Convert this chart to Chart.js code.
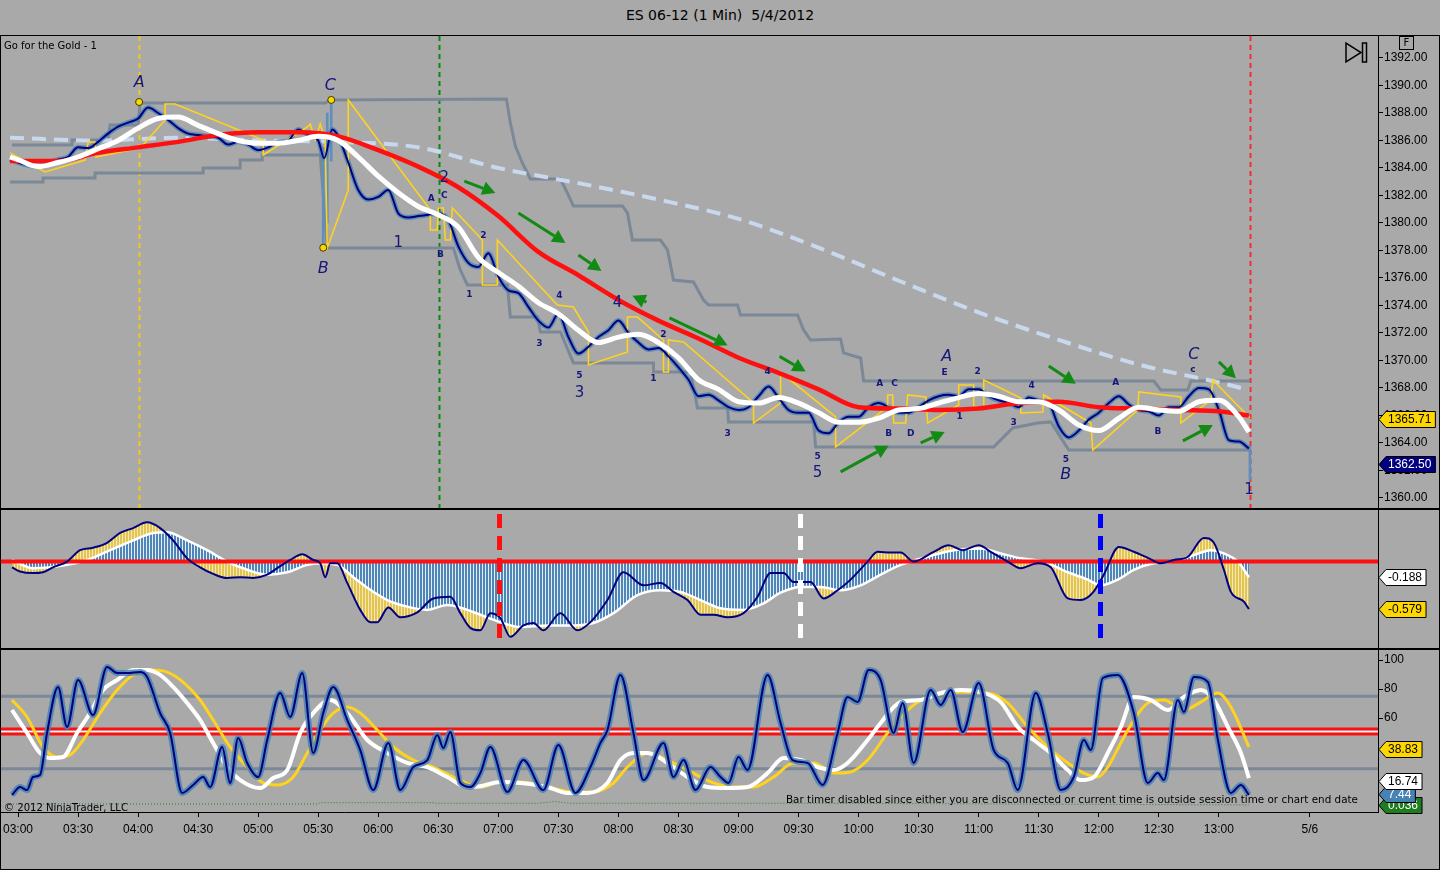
<!DOCTYPE html>
<html lang="en">
<head>
<meta charset="UTF-8">
<title>ES 06-12 (1 Min) 5/4/2012</title>
<script src="https://cdn.jsdelivr.net/npm/chart.js"></script>
<style>
  body { margin:0; background:#A9A9A9; width:1440px; height:870px; overflow:hidden; position:relative; font-family:"DejaVu Sans", sans-serif; }
  #title { position:absolute; top:7px; left:0; width:1440px; text-align:center; font-size:14px; color:#000; }
  canvas { position:absolute; left:0; }
</style>
</head>
<body>
<div id="title">ES 06-12 (1 Min)&nbsp;&nbsp;5/4/2012</div>
<canvas id="price" width="1440" height="474" style="top:35px"></canvas>
<canvas id="macd" width="1440" height="140" style="top:509px"></canvas>
<canvas id="stoch" width="1440" height="221" style="top:649px"></canvas>
<script>
// time is minutes after 03:00
const timeTicks = [0,30,60,90,120,150,180,210,240,270,300,330,360,390,420,450,480,510,540,570,600,645.5];
const timeLabels = ['03:00','03:30','04:00','04:30','05:00','05:30','06:00','06:30','07:00','07:30','08:00','08:30','09:00','09:30','10:00','10:30','11:00','11:30','12:00','12:30','13:00','5/6'];
const priceTicks = [1360,1362,1364,1366,1368,1370,1372,1374,1376,1378,1380,1382,1384,1386,1388,1390,1392];
const stochTicks = [60,80,100];

// price panel
const priceT = [-4,0,5,10,15,20,25,30,35,40,45,50,55,60,65,70,75,80,85,90,95,100,105,110,115,120,125,130,135,140,145,150,153,157,160,165,170,175,180,185,190,195,200,205,210,215,220,225,230,235,240,245,250,255,260,265,270,275,280,285,290,295,300,305,310,315,320,325,330,335,340,345,350,355,360,365,370,375,380,385,390,395,400,405,410,415,420,425,430,435,440,445,450,455,460,465,470,475,480,485,490,495,500,505,510,515,520,525,530,535,540,545,550,555,560,565,570,575,580,585,590,595,600,605,610,615];
const priceP = [1384.6,1384.4,1384.2,1384.1,1384.4,1384.6,1384.8,1385.5,1385.45,1385.9,1386.5,1387.0,1387.3,1387.6,1388.4,1388.0,1387.5,1386.9,1386.5,1386.4,1386.3,1386.2,1385.7,1385.9,1385.7,1385.3,1385.5,1385.9,1386.0,1386.8,1386.4,1386.0,1384.7,1386.8,1386.3,1384.4,1382.4,1381.7,1381.9,1382.4,1380.7,1380.4,1380.5,1380.6,1380.7,1380.2,1378.3,1377.1,1376.8,1377.8,1376.1,1375.1,1374.9,1373.9,1372.9,1372.4,1373.4,1371.7,1370.5,1371.0,1371.7,1372.2,1372.9,1372.0,1371.3,1370.8,1370.9,1370.3,1369.5,1368.6,1367.4,1367.5,1367.1,1366.6,1366.4,1366.6,1367.4,1368.1,1367.3,1366.4,1366.2,1366.2,1364.9,1364.7,1365.5,1365.9,1365.9,1366.6,1366.9,1366.6,1366.2,1366.2,1366.6,1367.1,1367.4,1367.5,1367.4,1367.9,1367.9,1367.4,1367.1,1366.9,1366.6,1367.3,1367.1,1366.9,1365.2,1364.4,1364.9,1365.7,1366.2,1366.9,1367.4,1366.8,1366.4,1366.3,1366.0,1366.6,1366.6,1367.4,1368.0,1367.9,1366.4,1364.2,1364.1,1363.6];

const fastT = [-4,0,10,20,30,40,50,60,70,80,90,100,110,120,130,140,150,160,170,180,190,200,210,220,230,240,250,260,270,280,290,300,310,320,330,340,350,360,370,380,390,400,410,420,430,440,450,460,470,480,490,500,510,520,530,540,550,560,570,580,590,600,610,615];
const fastP = [1384.8,1384.6,1384.1,1384.4,1384.8,1385.4,1386.0,1386.9,1387.6,1387.7,1387.1,1386.5,1386.0,1385.8,1385.8,1386.0,1386.3,1386.0,1384.8,1383.4,1382.2,1381.2,1380.6,1379.7,1377.5,1376.4,1375.4,1374.2,1373.4,1372.2,1371.3,1371.7,1371.9,1371.3,1370.2,1368.6,1367.9,1367.0,1366.9,1367.3,1366.9,1366.2,1365.5,1365.5,1365.8,1366.4,1366.5,1366.9,1367.3,1367.6,1367.4,1367.0,1367.0,1366.4,1365.3,1364.9,1365.8,1366.6,1366.4,1366.3,1367.0,1367.1,1365.9,1364.8];

const slowT = [-4,20,40,60,80,100,120,140,160,180,200,220,240,260,280,300,320,340,360,380,400,420,440,460,480,500,520,540,560,580,600,615];
const slowP = [1384.5,1384.5,1385.1,1385.5,1385.9,1386.4,1386.6,1386.6,1386.3,1385.3,1384.1,1382.6,1380.5,1377.9,1376.2,1374.4,1372.9,1371.6,1370.2,1369.1,1367.9,1366.6,1366.5,1366.4,1366.5,1366.9,1367.0,1366.6,1366.5,1366.4,1366.3,1366.0];

const longT = [-4,40,80,120,160,200,240,280,320,360,400,440,480,520,560,600,615];
const longP = [1386.2,1386.0,1386.2,1386.0,1385.9,1385.5,1384.0,1382.9,1381.7,1380.3,1378.2,1375.8,1373.5,1371.5,1369.7,1368.4,1367.85];

const trailT = [-4,13.5,33.5,35,38.5,39,61,73.5,73.5,78.5,122.5,122.5,144.5,146,148.5,151,153.5,154.5,165,165,206,206,209.5,210,212.5,213.5,216,217,232,232,239.5,239.5,269.5,277.5,285,285,304.5,304.5,309.5,322.5,322.5,325,325,332.5,367.5,367.5,381,381,408.5,408.5,434.5,434.5,437,437.5,443.5,444.5,453.5,454.5,470,470,477.5,477.5,482.5,482.5,501,501,512,512.5,536,537,559.5,560,581,581,596,597,615.5];
const trailP = [1385.09,1383.71,1384.58,1385.89,1385.89,1384.8,1385.45,1387.49,1388.65,1388.65,1386.04,1384.95,1386.98,1387.2,1386.04,1387.2,1386.04,1378.18,1382.4,1388.95,1380.95,1379.49,1379.49,1381.09,1381.09,1378.76,1378.76,1381.09,1378.76,1375.49,1375.49,1378.76,1374.04,1373.89,1372.07,1369.67,1370.62,1373.16,1373.16,1371.49,1369.16,1369.16,1371.49,1371.35,1366.91,1365.45,1366.91,1369.16,1365.89,1363.71,1366.62,1367.49,1367.49,1365.45,1365.45,1367.49,1367.35,1365.45,1366.76,1368.22,1368.22,1366.62,1366.62,1368.58,1367.27,1366.18,1366.25,1367.49,1365.45,1363.49,1366.4,1367.71,1367.35,1365.45,1367.13,1368.58,1365.82];

const upperT = [-3,27,27,45,46,60,61,153.5,156,244,246,248.5,252,256,271,274.5,277.5,302,304.5,307,321,324.5,327.5,337.5,342.5,345,359.5,361,389.5,392.5,396,411,412.5,421,422.5,567.5,571,584.5,586,615.5];
const upperP = [1385.67,1385.67,1386.04,1386.04,1387.13,1387.13,1388.73,1388.73,1388.95,1389.02,1387.27,1385.6,1384.36,1383.2,1383.2,1382.18,1381.24,1381.24,1380.73,1378.76,1378.76,1378.04,1375.85,1375.71,1374.4,1374.04,1374.04,1373.31,1373.31,1372.22,1371.49,1371.56,1370.55,1370.18,1368.51,1368.51,1367.85,1367.85,1368.51,1368.51];
const lowerT = [-4,12.5,12.5,38.5,38.5,92.5,92.5,111,111,122,122,151,154.5,217.5,221,224.5,244.5,246,259.5,261,271,277.5,317.5,317.5,336,339.5,354.5,355,397.5,398.5,487.5,492.5,497,509.5,516,525,615.5];
const lowerP = [1382.98,1382.98,1383.27,1383.27,1383.64,1383.64,1384.0,1384.0,1384.58,1384.58,1384.95,1384.95,1378.18,1378.18,1376.58,1375.49,1375.49,1373.16,1373.16,1372.07,1372.07,1369.82,1369.82,1369.16,1369.16,1366.55,1366.55,1365.53,1365.53,1363.71,1363.71,1364.44,1365.09,1365.45,1365.53,1363.49,1363.49];

const wickT = [152.5,154.5,156.5,615.5];
const wickLo = [1378.2,1380.0,1384.5,1361.3];
const wickHi = [1385.5,1388.0,1389.0,1363.8];

const waveLabels = ['A','C','B','1','2','A','C','B','2','1','3','4','5','3','4','2','1','3','4','5','5','A','C','B','D','A','E','2','1','3','4','5','B','A','B','C','c','1'];
const waveT = [60.5,156,152.5,190,213,206.5,213,211,232.5,225.5,260.5,270.5,280.5,280.5,299.5,322.5,317.5,354.5,374.5,399.5,399.5,430.5,438,435,446,464,463,479.5,470.5,497.5,506.5,523.5,523.5,548.5,569.5,587.5,587,615];
const waveP = [1390.2,1390.0,1376.7,1378.55,1383.3,1381.8,1382.0,1377.7,1379.1,1374.8,1371.2,1374.7,1368.9,1367.6,1374.2,1371.9,1368.7,1364.65,1369.2,1363.0,1361.8,1368.3,1368.3,1364.7,1364.7,1370.25,1369.1,1369.2,1365.9,1365.45,1368.15,1362.8,1361.7,1368.4,1364.8,1370.4,1369.3,1360.6];
const waveSize = ['L','L','L','M','M','S','S','S','S','S','S','S','S','M','M','S','S','S','S','S','M','S','S','S','S','L','S','S','S','S','S','S','L','S','S','L','S','M'];
const pivotT = [60.5,152.5,156.5];
const pivotP = [1388.8,1378.2,1388.95];
const arrowT1 = [223,250,280,314,325.5,380.5,411,451,515,582,600];
const arrowP1 = [1383.05,1380.73,1377.67,1374.25,1373.1,1370.3,1361.9,1364.0,1369.6,1364.15,1369.9];
const arrowT2 = [238.5,273.5,291.5,307,354.5,393.5,435,463,528.5,597,608.5];
const arrowP2 = [1382.18,1378.55,1376.51,1374.7,1371.1,1369.2,1363.8,1364.8,1368.3,1365.3,1368.7];
const priceMarks = [60.5,210.5,615.5];
const priceBoxes = [1365.71,1362.50];

// oscillator panel
const macdT = [-3,1,7.5,12.5,17.5,24.5,31,37.5,44.5,51,57.5,64.5,71,77.5,84.5,91,97.5,104.5,111,117.5,124.5,129.5,136,142,147.5,151,153.5,156,159.5,164.5,171,176,179.5,185,191,199.5,207.5,216,221,226,231,236,241,246,252.5,257.5,262.5,271,279.5,286,294.5,302.5,312.5,321,327.5,334.5,341,347.5,354.5,362.5,369.5,376,382.5,387.5,396,402.5,409.5,416,424.5,429.5,436,441,447.5,457.5,465,472,480,486,494.5,501,509.5,516,524.5,531,537,542.5,550,557.5,565,571,577.5,584.5,592.5,597.5,602.5,606,612.5,615];
const macdV = [-0.07,-0.12,-0.14,-0.13,-0.07,0.0,0.14,0.17,0.23,0.35,0.41,0.48,0.41,0.26,0.04,-0.07,-0.15,-0.20,-0.19,-0.20,-0.16,-0.08,0.02,0.09,0.02,-0.02,-0.19,-0.02,-0.02,-0.26,-0.59,-0.74,-0.74,-0.56,-0.68,-0.62,-0.45,-0.43,-0.63,-0.81,-0.84,-0.63,-0.69,-0.92,-0.78,-0.75,-0.84,-0.63,-0.84,-0.74,-0.47,-0.13,-0.29,-0.26,-0.37,-0.47,-0.65,-0.65,-0.68,-0.63,-0.43,-0.14,-0.14,-0.25,-0.25,-0.45,-0.35,-0.22,0.0,0.12,0.11,0.11,0.0,0.12,0.20,0.14,0.20,0.12,0.0,-0.08,-0.02,-0.07,-0.45,-0.47,-0.38,-0.16,0.18,0.12,0.04,-0.02,0.02,0.06,0.29,0.23,-0.10,-0.37,-0.49,-0.58];
const signalT = [-3,7.5,24.5,34.5,46,57.5,67.5,74.5,84.5,94.5,104.5,114.5,124.5,134.5,144.5,151,159.5,167.5,174.5,184.5,194.5,204.5,214.5,224.5,231,241,251,264.5,277.5,287.5,297.5,309.5,321,331,341,351,362.5,372.5,381,391,401,411,421,431,441,454.5,467.5,481,491,501,512.5,524.5,534.5,541,549.5,557.5,567.5,577.5,587.5,596,602.5,609.5,615];
const signalV = [0.02,-0.08,-0.04,0.02,0.14,0.26,0.35,0.36,0.26,0.14,0.0,-0.10,-0.16,-0.13,-0.04,-0.02,-0.04,-0.19,-0.32,-0.47,-0.55,-0.59,-0.53,-0.59,-0.65,-0.74,-0.80,-0.78,-0.78,-0.75,-0.63,-0.41,-0.35,-0.37,-0.47,-0.57,-0.59,-0.51,-0.38,-0.31,-0.31,-0.35,-0.29,-0.16,-0.04,0.06,0.14,0.16,0.10,0.04,0.0,-0.13,-0.22,-0.29,-0.22,-0.10,-0.02,0.0,0.08,0.14,0.10,0.0,-0.19];
const macdMarks = [240.5,390.5,540.5];
const macdBoxes = [-0.188,-0.579];

// stochastic panel
const kT = [-3,1,4.5,7.5,11,14.5,20,24.5,30,37.5,44.5,49.5,54.5,61,64.5,71,76,82,87.5,92.5,96,102,106,110,114.5,120,124.5,131,136,142,147.5,152.5,157.5,164.5,171,177.5,185,191,197.5,204.5,209.5,212.5,216,221,226,231,236,244.5,252.5,262.5,270,278.5,286,291,294.5,301,307.5,312.5,322.5,327.5,332.5,338.5,346,351,355,360,364.5,374.5,381,387,394.5,402,409.5,414.5,419.5,425,431,437.5,442,447.5,456,461,466,472,480,487.5,494.5,499.5,508.5,514.5,521,527.5,532.5,536,542,549.5,557.5,564.5,569.5,572.5,579.5,582.5,587.5,594.5,599.5,606,611,615];
const kV = [6.9,12.4,10.3,19.3,20.7,49.7,81.4,53.8,86.2,62,95.2,91,91,91.7,88.3,63.4,49.7,8.3,13.8,19.3,12.4,40,15.2,46.2,29,19.3,44.8,77.2,60.7,91,35.9,63.4,81.4,58.6,37.9,10.3,42.8,10.3,26.2,31,48.3,39.3,50.3,15.2,12.4,22,40,9,31,10.3,41.4,8.3,26.2,42.8,51.7,89.7,49.7,17.2,42.8,19.3,31,10.3,26.2,19.3,15.2,33.1,24.1,89.7,56.6,31,29,13.8,49.7,74.5,71,93.1,86.2,49.7,70.3,29,79.3,69,79.3,50.3,84.1,37.9,29,10.3,77.2,49.7,10.3,19.3,44.8,37.9,87.6,89.7,63.4,15.2,22,17.2,72.4,64.1,88.3,84.8,44.8,8.3,13.8,6.9];
const dT = [-3,4.5,11,16,22.5,29.5,36,42.5,49.5,57.5,64.5,71,77.5,84.5,91,97.5,104.5,111,121,127.5,134.5,141,147.5,156,164.5,174.5,184.5,194.5,204.5,214.5,224.5,231,241,251,264.5,274.5,284.5,294.5,301,307.5,314.5,324.5,334.5,344.5,354.5,364.5,374.5,382.5,391,401,407.5,414.5,424.5,431,441,451,461,471,481,491,499.5,507.5,516,524.5,531,537.5,544.5,551,557.5,566,574.5,582.5,591,597.5,604.5,611,615];
const dV = [65.5,49.7,35.9,32.4,33.1,49.7,63.4,79.3,86.2,93.1,93.1,89.7,81.4,70.3,58.6,42.8,26.2,17.2,11.7,18.6,24.1,49.7,63.4,72.4,63.4,44.8,35.9,29,26.2,19.3,12.4,13,15.9,15.2,12.4,8.3,8.3,15.2,31,35.9,35.9,29,19.3,12.4,11.7,12.4,22,32.4,31,25.5,24.1,29,44.8,56.6,71,72.4,77.2,79.3,77.9,71,53.8,44.8,35.9,24.1,17.2,19.3,35.9,53.8,74.5,72.4,65.5,74.5,79.3,72.4,53.8,35.9,18.6];
const sT = [-3,4.5,12.5,19.5,26,32.5,41,49.5,57.5,66,74.5,82.5,91,97.5,106,114.5,122.5,129.5,137.5,144.5,151,157.5,164.5,171,179.5,187.5,197.5,207.5,217.5,231,241,251,264.5,277.5,287.5,297.5,304.5,314.5,324.5,334.5,347.5,357.5,367.5,377.5,387.5,397.5,407.5,416,424.5,434.5,444.5,454.5,464.5,471,484.5,494.5,504.5,514.5,524.5,532.5,539.5,544.5,551,557.5,564.5,572.5,582.5,591,599.5,606,615];
const sV = [72.4,60.7,40,33.1,34.5,44.8,63.4,79.3,89.7,93.1,91.7,84.8,72.4,58.6,40,26.2,15.2,13.8,19.3,35.9,51.7,63.4,67.6,63.4,51.7,40,31,26.2,19.3,12.4,15.9,15.9,12.4,9,9,15.2,26.2,35.9,31,24.1,15.2,12.4,12.4,19.3,29,29,22,22.8,31,49.7,65.5,74.5,77.2,77.9,77.2,70.3,53.8,40,29,22,19.3,26.2,42.8,58.6,70.3,72.4,65.5,71,77.2,67.6,40];
const timerT = [-4,150,151,208,209,260,268,276,400,615];
const timerV = [0.7,0.7,1.6,1.6,1.2,1.2,2.4,1.2,1.2,0.04];
const stochBands = [75,25];
const stochMid = [52.5,49];
const stochBoxes = [0.036,7.44,16.74,38.83];

const FONT = '"DejaVu Sans", sans-serif';
const AXIS_FONT = '"Liberation Sans", Arial, sans-serif';
const INK = '#16167C';
const GREEN = '#138A13';

function series(ts, vs) { return ts.map((t, i) => ({x: t, y: vs[i]})); }
function line(ts, vs, color, width, extra) {
  return Object.assign({type: 'line', data: series(ts, vs), borderColor: color, borderWidth: width,
    pointRadius: 0, fill: false, clip: 0, tension: 0}, extra || {});
}
const smooth = {cubicInterpolationMode: 'monotone'};

function stripes(a, b) {
  const c = document.createElement('canvas');
  c.width = 3; c.height = 4;
  const g = c.getContext('2d');
  g.fillStyle = a; g.fillRect(0, 0, 2, 4);
  g.fillStyle = b; g.fillRect(2, 0, 1, 4);
  return g.createPattern(c, 'repeat');
}
const bluePat = stripes('#4E86B8', '#E4ECF5');
const goldPat = stripes('#E2C44E', '#F3E8B8');

// labels must not shrink the plot area
function noPad(s) { s.paddingLeft = 0; s.paddingRight = 0; s.paddingTop = 0; s.paddingBottom = 0; }

function xAxis(show) {
  return {
    type: 'linear', min: -8.5, max: 679.5, display: show, offset: false,
    afterBuildTicks: s => { s.ticks = timeTicks.map(v => ({value: v})); },
    afterFit: s => { noPad(s); if (show) s.height = 56; },
    grid: {drawOnChartArea: false, drawTicks: true, tickLength: 5, color: '#000', offset: false},
    border: {color: '#000'},
    ticks: {padding: 5, color: '#000', font: {family: AXIS_FONT, size: 12}, maxRotation: 0, autoSkip: false,
      callback: (v, i) => timeLabels[i]}
  };
}
function yAxis(min, max, vals, fmt) {
  return {
    position: 'right', min: min, max: max,
    afterBuildTicks: s => { s.ticks = vals.map(v => ({value: v})); },
    afterFit: s => { noPad(s); s.width = 62; },
    grid: {drawOnChartArea: false, drawTicks: true, tickLength: 5, color: '#000'},
    border: {color: '#000'},
    ticks: {padding: 1, color: '#000', font: {family: AXIS_FONT, size: 12}, autoSkip: false, callback: fmt}
  };
}

function arrow(ctx, x1, y1, x2, y2) {
  const ang = Math.atan2(y2 - y1, x2 - x1), hl = 13, hw = 7;
  const bx = x2 - hl * Math.cos(ang), by = y2 - hl * Math.sin(ang);
  ctx.strokeStyle = GREEN; ctx.lineWidth = 3;
  ctx.beginPath(); ctx.moveTo(x1, y1); ctx.lineTo(bx, by); ctx.stroke();
  ctx.fillStyle = GREEN;
  ctx.beginPath(); ctx.moveTo(x2, y2);
  ctx.lineTo(bx + hw * Math.sin(ang), by - hw * Math.cos(ang));
  ctx.lineTo(bx - hw * Math.sin(ang), by + hw * Math.cos(ang));
  ctx.closePath(); ctx.fill();
}

function box(ctx, x, y, text, bg, fg) {
  ctx.font = '12px ' + AXIS_FONT;
  const w = ctx.measureText(text).width + 6;
  ctx.beginPath();
  ctx.moveTo(x, y); ctx.lineTo(x + 7, y - 8); ctx.lineTo(x + 7 + w, y - 8);
  ctx.lineTo(x + 7 + w, y + 8); ctx.lineTo(x + 7, y + 8); ctx.closePath();
  ctx.fillStyle = bg; ctx.fill();
  ctx.strokeStyle = '#000'; ctx.lineWidth = 1; ctx.stroke();
  ctx.fillStyle = fg; ctx.textAlign = 'left'; ctx.textBaseline = 'middle';
  ctx.fillText(text, x + 9, y + 0.5);
}

function drawLayer(chart, L) {
  if (!L) return;
  const {ctx, chartArea: a, scales: {x, y}} = chart;
  ctx.save();
  ctx.beginPath(); ctx.rect(a.left, a.top, a.width, a.height); ctx.clip();
  (L.h || []).forEach(h => {
    const py = y.getPixelForValue(h.v);
    ctx.strokeStyle = h.c; ctx.lineWidth = h.w; ctx.setLineDash(h.d || []);
    ctx.beginPath(); ctx.moveTo(a.left, py); ctx.lineTo(a.right, py); ctx.stroke();
  });
  (L.v || []).forEach(v => {
    const px = Math.round(x.getPixelForValue(v.t)) + 0.5;
    ctx.strokeStyle = v.c; ctx.lineWidth = v.w; ctx.setLineDash(v.d || []);
    ctx.beginPath(); ctx.moveTo(px, a.top + (v.inset || 0)); ctx.lineTo(px, a.bottom - (v.inset || 0)); ctx.stroke();
  });
  ctx.setLineDash([]);
  if (L.arrows) L.arrows(chart);
  if (L.marks) L.marks(chart);
  ctx.restore();
}

function deco(cfg) {
  return {
    id: 'deco',
    beforeDatasetsDraw(chart) { drawLayer(chart, cfg.under); },
    afterDatasetDraw(chart, args) { if (args.index === cfg.midIndex) drawLayer(chart, cfg.mid); },
    afterDatasetsDraw(chart) { drawLayer(chart, cfg.over); },
    afterDraw(chart) {
      const {ctx, chartArea: a, width: W, height: H, scales: {y}} = chart;
      ctx.save();
      (cfg.boxes || []).forEach(b => box(ctx, a.right + 1, Math.round(y.getPixelForValue(b.v)) + 0.5, b.text, b.bg, b.fg));
      if (cfg.extra) cfg.extra(ctx, chart);
      ctx.strokeStyle = '#000'; ctx.lineWidth = 1;
      ctx.strokeRect(0.5, 0.5, W - 1, H - 1);
      ctx.beginPath(); ctx.moveTo(a.right + 0.5, 0); ctx.lineTo(a.right + 0.5, a.bottom); ctx.stroke();
      ctx.restore();
    }
  };
}

const baseOptions = {
  responsive: false, animation: false, events: [],
  plugins: {legend: {display: false}, tooltip: {enabled: false}}
};

// ---------- price panel ----------
new Chart(document.getElementById('price'), {
  type: 'line',
  data: {
    datasets: [
      line(fastT, fastP, '#FFFFFF', 5, smooth),
      line(slowT, slowP, '#FF1010', 4.5, smooth),
      line(priceT, priceP, '#000080', 2, smooth),
      line(trailT, trailP, '#FFD21E', 1.6),
      line(priceT, priceP, 'rgba(70,130,180,0.75)', 5, smooth),
      {type: 'bar', data: wickT.map((t, i) => ({x: t, y: [wickLo[i], wickHi[i]]})), backgroundColor: '#5F8FBF', barThickness: 2, clip: 0},
      line(longT, longP, '#C8D8EE', 4, Object.assign({borderDash: [14, 8]}, smooth)),
      line(upperT, upperP, '#7A8898', 3),
      line(lowerT, lowerP, '#7A8898', 3)
    ]
  },
  options: Object.assign({}, baseOptions, {
    layout: {padding: {left: 1, right: 0, top: 1, bottom: 1}},
    scales: {
      x: xAxis(false),
      y: yAxis(1359.27, 1393.6, priceTicks, v => v.toFixed(2))
    }
  }),
  plugins: [deco({
    under: {
      v: [
        {t: priceMarks[0], c: '#F2C81E', w: 2, d: [5, 4]},
        {t: priceMarks[1], c: '#0A8A0A', w: 2, d: [5, 4]},
        {t: priceMarks[2], c: '#F03030', w: 2, d: [5, 4]}
      ]
    },
    over: {
      arrows(chart) {
        const {ctx, scales: {x, y}} = chart;
        arrowT1.forEach((t, i) => arrow(ctx, x.getPixelForValue(t), y.getPixelForValue(arrowP1[i]),
          x.getPixelForValue(arrowT2[i]), y.getPixelForValue(arrowP2[i])));
      },
      marks(chart) {
        const {ctx, scales: {x, y}} = chart;
        pivotT.forEach((t, i) => {
          ctx.beginPath(); ctx.arc(x.getPixelForValue(t), y.getPixelForValue(pivotP[i]), 3.5, 0, Math.PI * 2);
          ctx.fillStyle = '#FFD700'; ctx.fill(); ctx.strokeStyle = '#3A3A00'; ctx.lineWidth = 1; ctx.stroke();
        });
        const fonts = {L: 'italic 16px ' + FONT, M: '15px ' + FONT, S: 'bold 9px ' + FONT};
        ctx.fillStyle = INK; ctx.textAlign = 'center'; ctx.textBaseline = 'middle';
        waveLabels.forEach((s, i) => {
          ctx.font = fonts[waveSize[i]];
          ctx.fillText(s, x.getPixelForValue(waveT[i]), y.getPixelForValue(waveP[i]));
        });
      }
    },
    boxes: [
      {v: priceBoxes[0], text: priceBoxes[0].toFixed(2), bg: '#FFD700', fg: '#000'},
      {v: priceBoxes[1], text: priceBoxes[1].toFixed(2), bg: '#000080', fg: '#FFF'}
    ],
    extra(ctx) {
      ctx.fillStyle = '#000'; ctx.font = '10px ' + FONT; ctx.textAlign = 'left'; ctx.textBaseline = 'middle';
      ctx.fillText('Go for the Gold - 1', 4, 11);
      ctx.strokeStyle = '#000'; ctx.lineWidth = 1;
      ctx.strokeRect(1399.5, 1.5, 14, 13);
      ctx.font = '10px ' + FONT; ctx.textAlign = 'center';
      ctx.fillText('F', 1406.5, 8.5);
      ctx.lineWidth = 1.5;
      ctx.beginPath(); ctx.moveTo(1346, 8); ctx.lineTo(1346, 27); ctx.lineTo(1361, 17.5); ctx.closePath(); ctx.stroke();
      ctx.strokeRect(1362.5, 8, 4, 19);
    }
  })]
});

// ---------- oscillator panel ----------
new Chart(document.getElementById('macd'), {
  type: 'line',
  data: {
    datasets: [
      line(macdT, macdV, '#000080', 2, smooth),
      line(signalT, signalV, '#FFFFFF', 2.5, Object.assign({fill: {target: 'origin', above: bluePat, below: bluePat}}, smooth)),
      line(macdT, macdV, 'rgba(0,0,0,0)', 1, Object.assign({fill: {target: 1, above: goldPat, below: goldPat}}, smooth))
    ]
  },
  options: Object.assign({}, baseOptions, {
    layout: {padding: {left: 1, right: 0, top: 1, bottom: 1}},
    scales: {
      x: xAxis(false),
      y: Object.assign(yAxis(-1.056, 0.631, [], v => ''), {ticks: {display: false}, grid: {drawOnChartArea: false, drawTicks: false}})
    }
  }),
  plugins: [deco({
    midIndex: 1,
    mid: {h: [{v: 0, c: '#FF1010', w: 4}]},
    over: {
      v: [
        {t: macdMarks[0], c: '#FF1010', w: 5, d: [14, 8], inset: 4},
        {t: macdMarks[1], c: '#FFFFFF', w: 5, d: [14, 8], inset: 4},
        {t: macdMarks[2], c: '#0000FF', w: 5, d: [14, 8], inset: 4}
      ]
    },
    boxes: [
      {v: macdBoxes[0], text: macdBoxes[0].toFixed(3), bg: '#FFFFFF', fg: '#000'},
      {v: macdBoxes[1], text: macdBoxes[1].toFixed(3), bg: '#FFD700', fg: '#000'}
    ]
  })]
});

// ---------- stochastic panel ----------
new Chart(document.getElementById('stoch'), {
  type: 'line',
  data: {
    datasets: [
      line(kT, kV, '#000080', 2, smooth),
      line(kT, kV, 'rgba(70,130,180,0.85)', 6, smooth),
      line(dT, dV, '#FFFFFF', 4, smooth),
      line(sT, sV, '#FFD21E', 3, smooth),
      line(timerT, timerV, '#2E7D2E', 1, {borderDash: [1, 2]})
    ]
  },
  options: Object.assign({}, baseOptions, {
    layout: {padding: {left: 1, right: 0, top: 1, bottom: 2}},
    scales: {
      x: xAxis(true),
      y: yAxis(-4.83, 106.9, stochTicks, v => String(v))
    }
  }),
  plugins: [deco({
    under: {
      h: [
        {v: stochBands[0], c: '#7A8898', w: 3},
        {v: stochBands[1], c: '#7A8898', w: 3},
        {v: stochMid[0], c: '#FF1010', w: 3},
        {v: stochMid[1], c: '#FF1010', w: 3},
        {v: (stochMid[0] + stochMid[1]) / 2, c: '#F4F4F4', w: 1.5}
      ]
    },
    boxes: [
      {v: stochBoxes[0], text: stochBoxes[0].toFixed(3), bg: '#1E7D1E', fg: '#FFF'},
      {v: stochBoxes[1], text: stochBoxes[1].toFixed(2), bg: '#4682B4', fg: '#FFF'},
      {v: stochBoxes[2], text: stochBoxes[2].toFixed(2), bg: '#FFFFFF', fg: '#000'},
      {v: stochBoxes[3], text: stochBoxes[3].toFixed(2), bg: '#FFD700', fg: '#000'}
    ],
    extra(ctx) {
      ctx.fillStyle = '#000'; ctx.font = '11px ' + FONT; ctx.textAlign = 'left'; ctx.textBaseline = 'middle';
      ctx.fillText('\u00A9 2012 NinjaTrader, LLC', 4, 159, 124);
      ctx.fillText('Bar timer disabled since either you are disconnected or current time is outside session time or chart end date', 786, 151, 572);
    }
  })]
});
</script>
</body>
</html>
